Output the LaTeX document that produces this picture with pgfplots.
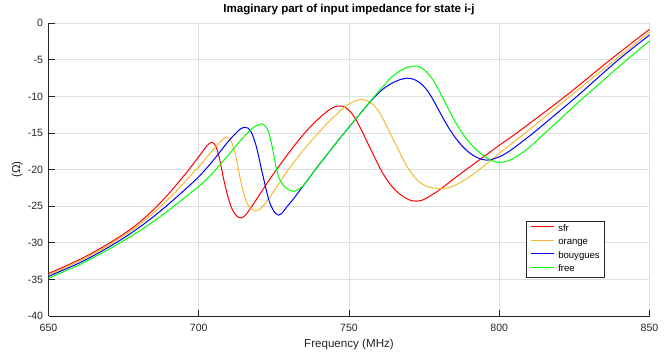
\documentclass[border=0pt]{standalone}
\usepackage{fontspec}
\setmainfont{Liberation Sans}
\usepackage{pgfplots}
\pgfplotsset{compat=1.18}
\definecolor{sfrc}{RGB}{255,0,0}
\definecolor{orngc}{RGB}{246,186,50}
\definecolor{bouyc}{RGB}{0,0,255}
\definecolor{freec}{RGB}{0,255,0}
\definecolor{axgray}{RGB}{38,38,38}
\definecolor{gridc}{RGB}{223,223,223}
\begin{document}
\begin{tikzpicture}
\path[use as bounding box] (-48.5bp,-43bp) rectangle (623.5bp,316bp);
\begin{axis}[
  at={(0,0)}, anchor=south west,
  scale only axis, width=601bp, height=292.7bp,
  xmin=650, xmax=850, ymin=-40, ymax=0,
  xtick={650,700,...,850}, ytick={-40,-35,...,0},
  axis x line*=bottom, axis y line*=left,
  axis line style={draw=axgray, line width=0.8bp, -},
  tick align=inside, major tick length=6bp,
  tick style={draw=axgray, line width=0.8bp},
  grid=major, major grid style={draw=gridc, line width=0.8bp},
  /pgf/number format/assume math mode=true,
  ticklabel style={font=\fontsize{10.6}{12}\selectfont, text=axgray},
  xticklabel style={anchor=center, yshift=-11.7bp},
  yticklabel style={anchor=east, inner xsep=0pt, xshift=-5.2bp},
  title={Imaginary part of input impedance for state i-j},
  title style={font=\bfseries\fontsize{11.6}{13}\selectfont, at={(axis description cs:0.5,1)}, anchor=center, yshift=7.8bp},
  xlabel={Frequency (MHz)},
  xlabel style={font=\fontsize{11.65}{13}\selectfont, text=axgray, at={(axis description cs:0.5,0)}, anchor=center, yshift=-28.3bp},
  ylabel={(Ω)},
  ylabel style={font=\fontsize{11.65}{13}\selectfont, text=axgray, at={(axis description cs:-0.0524,0.5)}, anchor=center},
  legend style={
    at={(axis description cs:0.7937,0.3246)}, anchor=north west,
    draw=axgray, line width=0.7bp, fill=white,
    inner xsep=4.5bp, inner ysep=3.25bp,
    row sep=4.5bp,
    nodes={inner sep=0pt, text height=6.8bp, text depth=2.2bp, font=\fontsize{9.6}{11}\selectfont, text=black},
    /tikz/every odd column/.append style={column sep=3.5bp},
  },
  legend cell align=left,
  every axis plot/.append style={line width=1bp, smooth, tension=0.5},
]
\addplot[sfrc, forget plot] table {
650 -34.2
655 -33.3
660 -32.35
665 -31.3
670 -30.1
675 -28.8
680 -27.3
685 -25.45
690 -23.3
694 -21.35
697 -19.85
700.4 -18.0
702.5 -16.85
703.6 -16.4
704.3 -16.26
705.2 -16.5
706 -17.15
706.8 -18.3
707.6 -19.9
708.4 -21.5
709.2 -22.9
710 -24.1
710.8 -25.1
711.7 -25.85
712.7 -26.35
713.95 -26.6
715.5 -26.25
717 -25.4
719 -24.2
722 -22.3
725 -20.5
728 -18.8
731 -17.15
734 -15.6
737 -14.2
740 -13.0
743 -11.95
745 -11.45
746.8 -11.3
748.5 -11.45
750.5 -12.1
752.5 -13.3
754.5 -14.9
756.5 -16.6
758.5 -18.3
760.5 -19.95
762.5 -21.3
764.5 -22.4
766.5 -23.2
768.5 -23.8
770.5 -24.2
772.5 -24.3
774.5 -24.15
777 -23.6
780.3 -22.7
786 -20.9
793.6 -18.6
800.25 -16.6
805.8 -15.0
821.9 -10.0
836.9 -5.0
850 -0.82
};
\addplot[orngc, forget plot] table {
650 -34.4
655 -33.5
660 -32.55
665 -31.5
670 -30.35
675 -29.05
680 -27.6
685 -25.9
690 -24.0
694 -22.3
697.1 -20.9
700.4 -19.4
703 -18.15
705.5 -16.95
707.5 -16.05
708.5 -15.7
709.3 -15.58
710.5 -15.9
711.5 -16.9
712.4 -18.3
713.2 -20.0
714 -21.6
714.8 -23.0
715.6 -24.1
716.5 -24.9
717.5 -25.35
718.7 -25.6
720.2 -25.45
721.5 -24.9
723.5 -23.8
725.9 -22.4
729.8 -20.0
733.7 -17.9
737 -16.3
742 -14.0
747 -12.0
750.5 -10.9
754 -10.4
756 -10.6
758 -11.1
760 -12.1
762 -13.6
764 -15.3
766 -16.9
768 -18.6
770 -20.0
772 -21.1
774 -21.85
776 -22.3
778 -22.5
780.5 -22.6
782 -22.55
785 -22.2
790 -21.0
793.3 -20.0
797 -18.8
800.25 -17.7
808.6 -15.0
823.5 -10.0
838.5 -5.0
850 -1.23
};
\addplot[bouyc, forget plot] table {
650 -34.6
655 -33.7
660 -32.8
665 -31.75
670 -30.6
675 -29.35
680 -27.95
685 -26.4
690 -24.7
694 -23.25
697.1 -22.1
700.4 -20.8
704.9 -18.7
709.3 -16.4
712.5 -14.95
714 -14.4
715.4 -14.21
716.5 -14.35
717.5 -14.9
718.2 -15.6
719 -16.6
719.8 -17.95
720.9 -20.0
721.8 -21.6
722.6 -23.0
723.3 -24.1
724.0 -24.9
725.2 -25.8
726.5 -26.2
727.8 -25.9
729.3 -25.1
731.5 -24.0
733.7 -22.8
735 -22.1
736 -21.55
737.5 -20.7
740 -19.35
742 -18.3
747 -15.7
752 -13.2
755 -11.7
758 -10.3
761 -9.1
764 -8.25
767 -7.7
769.4 -7.5
771.5 -7.65
773.5 -8.1
775.5 -8.9
777.5 -10.1
779.5 -11.6
781.5 -13.1
783.5 -14.5
785.5 -15.7
787.5 -16.7
789.5 -17.5
791.5 -18.1
793.5 -18.5
795.8 -18.7
798 -18.55
800.25 -18.2
802.5 -17.7
805 -17.0
808 -16.05
811.3 -15.0
818 -12.7
825.8 -10.0
839.6 -5.0
850 -1.6
};
\addplot[freec, forget plot] table {
650 -34.85
655 -33.95
660 -33.05
665 -32.0
670 -30.9
675 -29.7
680 -28.45
685 -27.05
690 -25.55
694 -24.25
697.1 -23.25
700.4 -22.15
703.5 -20.95
707.1 -19.3
710.5 -17.7
713.7 -16.1
716.5 -14.9
718.5 -14.15
720.9 -13.76
722 -14.0
723.2 -14.8
724.3 -16.6
725.1 -18.3
725.9 -20.0
726.8 -21.2
727.6 -21.8
728.7 -22.4
729.8 -22.7
731.5 -22.95
733 -22.75
734.5 -22.3
736 -21.55
737.5 -20.7
740 -19.35
742 -18.3
747 -15.7
752 -13.2
755 -11.7
758 -10.2
761 -8.8
764 -7.4
767 -6.5
769.5 -6.0
771.7 -5.83
773.7 -6.0
775.7 -6.6
777.7 -7.6
779.7 -9.0
781.7 -10.6
783.7 -12.2
785.7 -13.7
787.7 -15.0
789.7 -16.1
791.7 -17.0
793.7 -17.75
795.7 -18.35
797.7 -18.8
799.5 -19.0
801.5 -18.95
803.5 -18.7
806 -18.15
808.5 -17.45
811 -16.6
815.2 -15.0
820 -13.2
828.5 -10.0
842.4 -5.0
850 -2.42
};
\addlegendimage{legend image code/.code={\draw[draw=sfrc, line width=1bp] (0bp,2.3bp) -- (23.4bp,2.3bp);}}
\addlegendentry{sfr}
\addlegendimage{legend image code/.code={\draw[draw=orngc, line width=1bp] (0bp,2.3bp) -- (23.4bp,2.3bp);}}
\addlegendentry{orange}
\addlegendimage{legend image code/.code={\draw[draw=bouyc, line width=1bp] (0bp,2.3bp) -- (23.4bp,2.3bp);}}
\addlegendentry{bouygues}
\addlegendimage{legend image code/.code={\draw[draw=freec, line width=1bp] (0bp,2.3bp) -- (23.4bp,2.3bp);}}
\addlegendentry{free}
\end{axis}
\end{tikzpicture}
\end{document}
